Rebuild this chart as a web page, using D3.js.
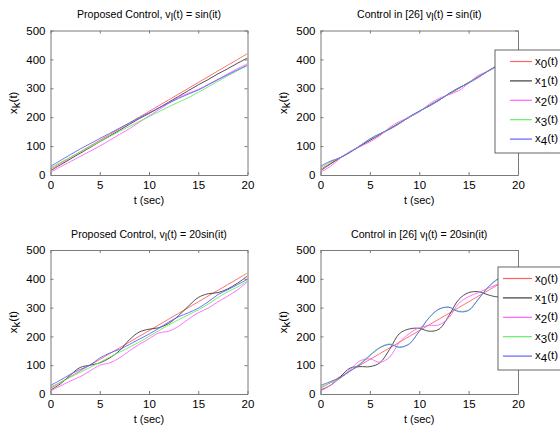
<!DOCTYPE html>
<html>
<head>
<meta charset="utf-8">
<script src="https://d3js.org/d3.v7.min.js"></script>
<style>
  body { margin: 0; background: #fff; }
  text { font-family: "Liberation Sans", Arial, sans-serif; }
</style>
</head>
<body>
<div id="canvas"></div>
<script>
// time samples (sec)
var tSec = [0,1,2,3,4,5,6,7,8,9,10,11,12,13,14,15,16,17,18,19,20];

var seriesNames = ["0", "1", "2", "3", "4"];
var seriesColors = ["#ff6262", "#3c3c3c", "#ff62ff", "#62ee62", "#6262ff"];

// Proposed Control, vl(t) = sin(it)
var tlX0 = [20,40,60,80,100,120,140,160,180,200,220,240,260,280,300,320,340,360,380,400,420];
var tlX1 = [15,35,55,75,95,115,135,155,175,195,213,232,252,272,292,312,330,350,368,387,405];
var tlX2 = [10,28,46,64,82,100,120,140,160,182,204,226,248,268,283,296,313,331,350,368,385];
var tlX3 = [25,43,61,79,97,115,133,151,168,185,202,219,236,252,268,286,305,324,343,361,378];
var tlX4 = [30,50,70,90,108,126,144,162,180,198,215,232,249,265,280,294,312,330,347,364,380];

// Control in [26], vl(t) = sin(it)
var trX0 = [20,40,60,80,100,120,140,160,180,200,220,240,260,280,300,320,340,360,380,400,420];
var trX1 = [15,38,60,80,100,120,140,160,180,200,220,240,260,280,300,320,340,360,380,400,420];
var trX2 = [10,30,58,82,98,115,135,165,185,200,218,245,265,278,292,318,345,360,378,398,420];
var trX3 = [25,45,60,79,102,123,142,159,179,201,220,239,259,281,301,319,339,360,380,400,420];
var trX4 = [30,48,60,78,101,125,143,158,178,202,221,238,258,282,302,318,338,361,381,400,420];

// Proposed Control, vl(t) = 20sin(it)
var blX0 = [20,40,60,80,100,120,140,160,180,200,220,240,260,280,300,320,340,360,380,400,420];
var blX1 = [14,35,65,92,100,108,125,150,188,215,225,230,245,272,305,335,348,352,365,385,410];
var blX2 = [10,28,45,60,80,100,108,125,150,172,192,212,218,235,260,282,298,320,340,362,390];
var blX3 = [25,40,58,75,92,110,128,145,162,180,200,220,240,258,275,292,312,335,355,372,392];
var blX4 = [30,48,68,85,100,125,142,155,172,190,208,228,250,268,282,298,320,345,362,380,398];

// Control in [26], vl(t) = 20sin(it)
var brX0 = [20,40,60,80,100,120,140,160,180,200,220,240,260,280,300,320,340,360,380,400,420];
var brX1 = [14,30,60,90,95,95,108,155,210,226,228,218,225,272,328,352,355,344,337,345,370];
var brX2 = [10,30,55,85,115,122,110,128,180,210,230,238,240,265,315,338,352,368,382,395,410];
var brX3 = [25,38,55,80,105,135,162,174,163,175,218,265,294,302,288,292,330,372,402,420,430];
var brX4 = [30,43,57,80,103,133,160,172,162,174,218,265,295,301,286,290,330,372,400,418,430];

// tick values
var xTicks = [0, 5, 10, 15, 20];
var yTicks = [0, 100, 200, 300, 400, 500];

var panels = [
  { title: ["Proposed Control, v", "l", "(t) = sin(it)"], data: [tlX0, tlX1, tlX2, tlX3, tlX4],
    left: 50.5, right: 247.5, top: 30.5, bottom: 175, legend: null },
  { title: ["Control in [26] v", "l", "(t) = sin(it)"], data: [trX0, trX1, trX2, trX3, trX4],
    left: 320.5, right: 518, top: 30.5, bottom: 175, legend: { x: 495, y: 50, line0: 510 } },
  { title: ["Proposed Control, v", "l", "(t) = 20sin(it)"], data: [blX0, blX1, blX2, blX3, blX4],
    left: 50.5, right: 247.5, top: 250, bottom: 394, legend: null },
  { title: ["Control in [26] v", "l", "(t) = 20sin(it)"], data: [brX0, brX1, brX2, brX3, brX4],
    left: 320.5, right: 518, top: 250, bottom: 394, legend: { x: 498, y: 267, line0: 503 } }
];

var svg = d3.select("#canvas").append("svg")
  .attr("width", 560)
  .attr("height", 425);

var axisGray = "#7a7a7a";

panels.forEach(function(p, pi) {
  var x = d3.scaleLinear().domain([0, 20]).range([p.left, p.right]);
  var y = d3.scaleLinear().domain([0, 500]).range([p.bottom, p.top]);

  var clipId = "clip" + pi;
  svg.append("clipPath").attr("id", clipId)
    .append("rect")
      .attr("x", p.left).attr("y", p.top)
      .attr("width", p.right - p.left).attr("height", p.bottom - p.top);

  // curves
  var line = d3.line()
    .x(function(d, i) { return x(tSec[i]); })
    .y(function(d) { return y(d); })
    .curve(d3.curveCatmullRom);

  var g = svg.append("g").attr("clip-path", "url(#" + clipId + ")");
  p.data.forEach(function(s, si) {
    g.append("path")
      .attr("d", line(s))
      .attr("fill", "none")
      .attr("stroke", seriesColors[si])
      .attr("stroke-width", 0.9);
  });

  // axes (MATLAB box with inward ticks)
  var bottomAxis = svg.append("g")
    .attr("transform", "translate(0," + p.bottom + ")")
    .call(d3.axisBottom(x).tickValues(xTicks).tickSize(-3).tickSizeOuter(0).tickPadding(6));
  var leftAxis = svg.append("g")
    .attr("transform", "translate(" + p.left + ",0)")
    .call(d3.axisLeft(y).tickValues(yTicks).tickSize(-3).tickSizeOuter(0).tickPadding(5));
  svg.append("g")
    .attr("transform", "translate(0," + p.top + ")")
    .call(d3.axisTop(x).tickValues(xTicks).tickSize(-3).tickSizeOuter(0).tickFormat(""));
  svg.append("g")
    .attr("transform", "translate(" + p.right + ",0)")
    .call(d3.axisRight(y).tickValues(yTicks).tickSize(-3).tickSizeOuter(0).tickFormat(""));

  svg.selectAll(".domain").attr("stroke", axisGray);
  svg.selectAll(".tick line").attr("stroke", axisGray);
  [bottomAxis, leftAxis].forEach(function(a) {
    a.selectAll("text").attr("fill", "#000").style("font-size", "11.5px");
  });

  // title
  var cx = (p.left + p.right) / 2;
  var title = svg.append("text")
    .attr("x", cx).attr("y", p.top - 12.5)
    .attr("text-anchor", "middle")
    .style("font-size", "10.6px");
  title.append("tspan").text(p.title[0]);
  title.append("tspan").attr("dy", 3).text(p.title[1]);
  title.append("tspan").attr("dy", -3).text(p.title[2]);

  // x label
  svg.append("text")
    .attr("x", cx).attr("y", p.bottom + 29)
    .attr("text-anchor", "middle")
    .style("font-size", "11px")
    .text("t (sec)");

  // y label
  var yl = svg.append("text")
    .attr("transform", "translate(" + (p.left - 34) + "," + ((p.top + p.bottom) / 2) + ") rotate(-90)")
    .attr("text-anchor", "middle")
    .style("font-size", "11.5px");
  yl.append("tspan").text("x");
  yl.append("tspan").attr("dy", 3).text("k");
  yl.append("tspan").attr("dy", -3).text("(t)");

  // legend
  if (p.legend) {
    var lg = svg.append("g");
    lg.append("rect")
      .attr("x", p.legend.x).attr("y", p.legend.y)
      .attr("width", 80).attr("height", 103)
      .attr("fill", "#fff")
      .attr("stroke", "#555")
      .attr("stroke-width", 0.9);
    seriesNames.forEach(function(n, si) {
      var ly = p.legend.y + 11.5 + si * 19.4;
      lg.append("line")
        .attr("x1", p.legend.line0).attr("x2", 532)
        .attr("y1", ly).attr("y2", ly)
        .attr("stroke", seriesColors[si])
        .attr("stroke-width", 1.2);
      var lt = lg.append("text")
        .attr("x", 535).attr("y", ly + 3)
        .style("font-size", "11.5px");
      lt.append("tspan").text("x");
      lt.append("tspan").attr("dy", 3).text(n);
      lt.append("tspan").attr("dy", -3).text("(t)");
    });
  }
});
</script>
</body>
</html>
